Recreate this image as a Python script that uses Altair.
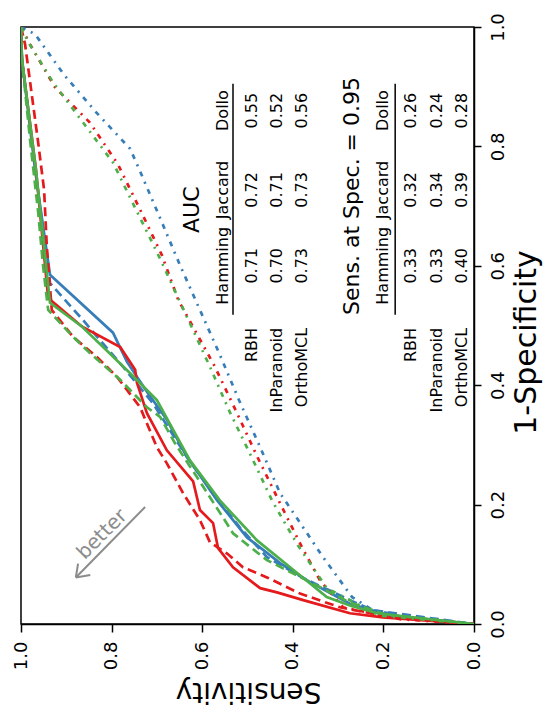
import altair as alt
import pandas as pd

FONT = "DejaVu Sans"

methods = ["RBH", "InParanoid", "OrthoMCL"]
measures = ["Hamming", "Jaccard", "Dollo"]
method_colors = ["#377eb8", "#e41a1c", "#4daf4a"]

# ---- ROC curves (Sensitivity, 1-Specificity) ----
rbh_hamming_sens = [1.0, 0.998, 0.969, 0.936, 0.797, 0.766, 0.722, 0.678, 0.634, 0.605, 0.567, 0.501, 0.428, 0.362, 0.274, 0.185, 0.0]
rbh_hamming_fpr = [1.0, 0.946, 0.761, 0.585, 0.488, 0.439, 0.389, 0.342, 0.280, 0.249, 0.207, 0.145, 0.102, 0.070, 0.034, 0.014, 0.0]

rbh_jaccard_sens = [1.0, 0.998, 0.969, 0.936, 0.863, 0.826, 0.775, 0.709, 0.634, 0.576, 0.517, 0.457, 0.377, 0.274, 0.223, 0.0]
rbh_jaccard_fpr = [1.0, 0.946, 0.761, 0.571, 0.509, 0.476, 0.431, 0.370, 0.280, 0.219, 0.162, 0.112, 0.077, 0.040, 0.023, 0.0]

rbh_dollo_sens = [1.0, 0.969, 0.905, 0.834, 0.759, 0.737, 0.693, 0.649, 0.605, 0.561, 0.517, 0.472, 0.428, 0.395, 0.336, 0.269, 0.223, 0.119, 0.0]
rbh_dollo_fpr = [1.0, 0.988, 0.920, 0.857, 0.796, 0.758, 0.680, 0.601, 0.526, 0.451, 0.372, 0.296, 0.219, 0.182, 0.115, 0.045, 0.023, 0.008, 0.0]

inp_hamming_sens = [1.0, 0.998, 0.967, 0.940, 0.865, 0.781, 0.748, 0.744, 0.722, 0.678, 0.620, 0.605, 0.576, 0.565, 0.532, 0.472, 0.435, 0.377, 0.274, 0.201, 0.0]
inp_hamming_fpr = [1.0, 0.946, 0.761, 0.546, 0.498, 0.464, 0.426, 0.404, 0.353, 0.291, 0.239, 0.191, 0.169, 0.127, 0.095, 0.060, 0.053, 0.040, 0.018, 0.011, 0.0]

inp_jaccard_sens = [1.0, 0.991, 0.962, 0.949, 0.943, 0.932, 0.885, 0.832, 0.788, 0.737, 0.700, 0.678, 0.642, 0.605, 0.583, 0.545, 0.510, 0.457, 0.384, 0.296, 0.201, 0.0]
inp_jaccard_fpr = [1.0, 0.971, 0.806, 0.727, 0.632, 0.526, 0.481, 0.447, 0.414, 0.363, 0.296, 0.269, 0.219, 0.174, 0.137, 0.118, 0.095, 0.078, 0.051, 0.028, 0.014, 0.0]

inp_dollo_sens = [1.0, 0.980, 0.925, 0.848, 0.786, 0.737, 0.689, 0.653, 0.572, 0.523, 0.477, 0.428, 0.380, 0.340, 0.289, 0.163, 0.0]
inp_dollo_fpr = [1.0, 0.971, 0.899, 0.840, 0.770, 0.694, 0.618, 0.543, 0.431, 0.353, 0.278, 0.202, 0.129, 0.073, 0.028, 0.008, 0.0]

omcl_hamming_sens = [1.0, 0.998, 0.967, 0.936, 0.865, 0.759, 0.700, 0.664, 0.627, 0.561, 0.479, 0.406, 0.325, 0.274, 0.214, 0.0]
omcl_hamming_fpr = [1.0, 0.946, 0.761, 0.538, 0.498, 0.420, 0.375, 0.325, 0.274, 0.207, 0.140, 0.095, 0.045, 0.031, 0.018, 0.0]

omcl_jaccard_sens = [1.0, 0.998, 0.980, 0.962, 0.951, 0.940, 0.885, 0.848, 0.781, 0.722, 0.693, 0.658, 0.627, 0.603, 0.547, 0.532, 0.494, 0.457, 0.413, 0.369, 0.274, 0.196, 0.0]
omcl_jaccard_fpr = [1.0, 0.946, 0.811, 0.689, 0.598, 0.526, 0.481, 0.454, 0.409, 0.363, 0.347, 0.300, 0.264, 0.236, 0.170, 0.152, 0.129, 0.107, 0.090, 0.073, 0.036, 0.016, 0.0]

omcl_dollo_sens = [1.0, 0.985, 0.929, 0.863, 0.797, 0.748, 0.700, 0.653, 0.583, 0.539, 0.490, 0.444, 0.389, 0.325, 0.208, 0.0]
omcl_dollo_fpr = [1.0, 0.976, 0.907, 0.840, 0.773, 0.697, 0.623, 0.546, 0.431, 0.355, 0.278, 0.204, 0.132, 0.060, 0.014, 0.0]

# ---- table values ----
auc_values = [[0.71, 0.72, 0.55], [0.70, 0.71, 0.52], [0.73, 0.73, 0.56]]
sens95_values = [[0.33, 0.32, 0.26], [0.33, 0.34, 0.24], [0.40, 0.39, 0.28]]

curves = [
    ("RBH", "Hamming", rbh_hamming_sens, rbh_hamming_fpr),
    ("RBH", "Jaccard", rbh_jaccard_sens, rbh_jaccard_fpr),
    ("RBH", "Dollo", rbh_dollo_sens, rbh_dollo_fpr),
    ("InParanoid", "Hamming", inp_hamming_sens, inp_hamming_fpr),
    ("InParanoid", "Jaccard", inp_jaccard_sens, inp_jaccard_fpr),
    ("InParanoid", "Dollo", inp_dollo_sens, inp_dollo_fpr),
    ("OrthoMCL", "Hamming", omcl_hamming_sens, omcl_hamming_fpr),
    ("OrthoMCL", "Jaccard", omcl_jaccard_sens, omcl_jaccard_fpr),
    ("OrthoMCL", "Dollo", omcl_dollo_sens, omcl_dollo_fpr),
]

# ---- styling / layout (data-coordinate anchors for annotations) ----
dash_style = {"Hamming": None, "Jaccard": [9, 5], "Dollo": [5, 6, 2, 6]}
color_of = dict(zip(methods, method_colors))

col_pos = [0.600, 0.727, 0.860]       # 1-Specificity positions of the table columns
row_label_anchor = 0.496
line_y = (0.518, 0.905)
tables = [
    dict(title="AUC", title_x=0.623, title_y=0.694, head_x=0.554, line_x=0.532,
         rows_x=[0.490, 0.435, 0.380], values=auc_values),
    dict(title="Sens. at Spec. = 0.95", title_x=0.269, title_y=0.717, head_x=0.201, line_x=0.174,
         rows_x=[0.139, 0.082, 0.026], values=sens95_values),
]

xscale = alt.Scale(domain=[0, 1], reverse=True, nice=False, zero=False)
yscale = alt.Scale(domain=[0, 1], nice=False, zero=False)
ticks = [0.0, 0.2, 0.4, 0.6, 0.8, 1.0]

xaxis = alt.Axis(orient="bottom", values=ticks, format=".1f", labelAngle=270, labelAlign="right",
                 labelBaseline="middle", labelFontSize=18, labelPadding=9, tickSize=8, tickWidth=1.5,
                 domainWidth=1.5, labelFlush=False, labelOverlap=False, grid=False,
                 title="Sensitivity", titleAngle=180, titleFontSize=28, titleFontWeight="normal",
                 titleAlign="center", titleBaseline="middle", titleX=227, titleY=66)
yaxis = alt.Axis(orient="right", values=ticks, format=".1f", labelAngle=270, labelAlign="center",
                 labelBaseline="top", labelFontSize=18, labelPadding=8, tickSize=7, tickWidth=1.5,
                 domainWidth=1.5, labelFlush=False, labelOverlap=False, grid=False,
                 title="1-Specificity", titleAngle=270, titleFontSize=30, titleFontWeight="normal",
                 titleAlign="center", titleBaseline="middle", titleX=52, titleY=315)


def X(field="sens"):
    return alt.X(f"{field}:Q", scale=xscale, axis=xaxis, title="Sensitivity")


def Y(field="fpr"):
    return alt.Y(f"{field}:Q", scale=yscale, axis=yaxis, title="1-Specificity")


layers = []
for method, measure, s, f in curves:
    d = pd.DataFrame({"sens": s, "fpr": f, "i": list(range(len(s)))})
    kw = dict(strokeWidth=2.7, color=color_of[method], clip=True)
    if dash_style[measure] is not None:
        kw["strokeDash"] = dash_style[measure]
    layers.append(alt.Chart(d).mark_line(**kw).encode(x=X(), y=Y(), order="i:Q"))

# tables
for t in tables:
    title_df = pd.DataFrame({"sens": [t["title_x"]], "fpr": [t["title_y"]], "txt": [t["title"]]})
    layers.append(alt.Chart(title_df).mark_text(angle=270, fontSize=22, font=FONT, color="black",
                                               align="center", baseline="middle")
                  .encode(x=X(), y=Y(), text="txt:N"))
    head_df = pd.DataFrame({"sens": [t["head_x"]] * 3, "fpr": col_pos, "txt": measures})
    layers.append(alt.Chart(head_df).mark_text(angle=270, fontSize=16, font=FONT, color="black",
                                              align="center", baseline="middle")
                  .encode(x=X(), y=Y(), text="txt:N"))
    rule_df = pd.DataFrame({"sens": [t["line_x"]], "fpr": [line_y[0]], "fpr2": [line_y[1]]})
    layers.append(alt.Chart(rule_df).mark_rule(color="black", strokeWidth=1.5)
                  .encode(x=X(), y=Y(), y2="fpr2:Q"))
    rl_df = pd.DataFrame({"sens": t["rows_x"], "fpr": [row_label_anchor] * 3, "txt": methods})
    layers.append(alt.Chart(rl_df).mark_text(angle=270, fontSize=16, font=FONT, color="black",
                                            align="right", baseline="middle")
                  .encode(x=X(), y=Y(), text="txt:N"))
    vals = []
    for ri, row in enumerate(t["values"]):
        for ci, v in enumerate(row):
            vals.append({"sens": t["rows_x"][ri], "fpr": col_pos[ci], "v": v})
    layers.append(alt.Chart(pd.DataFrame(vals)).mark_text(angle=270, fontSize=16, font=FONT, color="black",
                                                          align="center", baseline="middle")
                  .encode(x=X(), y=Y(), text=alt.Text("v:Q", format=".2f")))

# "better" arrow (shaft + open head)
arrow_df = pd.DataFrame({
    "sens": [0.726, 0.879, 0.879],
    "fpr": [0.196, 0.078, 0.078],
    "sens2": [0.879, 0.847, 0.874],
    "fpr2": [0.078, 0.082, 0.101],
})
layers.append(alt.Chart(arrow_df).mark_rule(color="#8c8c8c", strokeWidth=2)
              .encode(x=X(), y=Y(), x2="sens2:Q", y2="fpr2:Q"))
better_df = pd.DataFrame({"sens": [0.821], "fpr": [0.150], "txt": ["better"]})
layers.append(alt.Chart(better_df).mark_text(angle=315, fontSize=20, font=FONT, color="#8c8c8c",
                                            align="center", baseline="middle")
              .encode(x=X(), y=Y(), text="txt:N"))

chart = alt.layer(*layers).properties(
    width=453, height=597,
    padding={"left": 13, "top": 19, "right": 70, "bottom": 84},
    autosize=alt.AutoSizeParams(type="none"),
).configure_view(stroke="black", strokeWidth=1.5).configure_axis(
    domainColor="black", tickColor="black", labelColor="black", titleColor="black",
    labelFont=FONT, titleFont=FONT,
)

chart.save("out.html", embed_options={"renderer": "svg", "actions": False})
